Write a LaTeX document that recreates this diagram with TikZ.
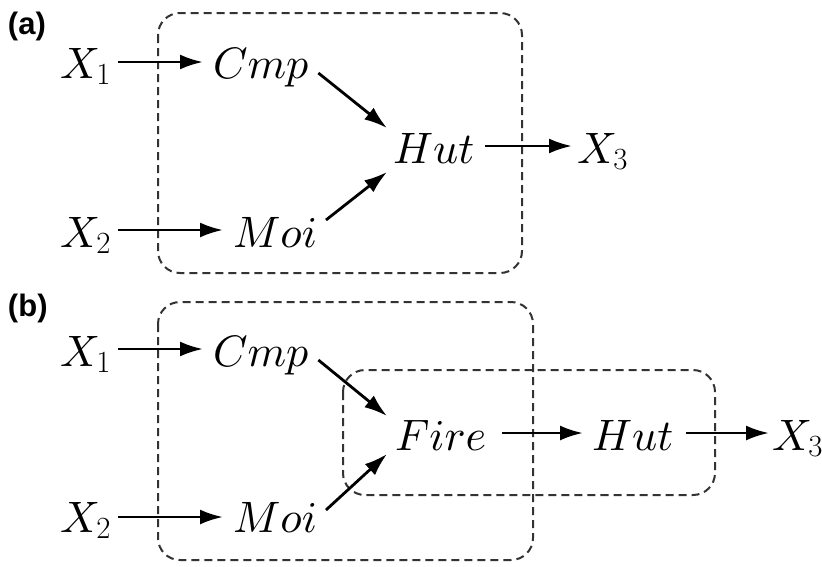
\RequirePackage{fix-cm}
\documentclass[tikz,border=0pt]{standalone}
\usepackage{fontspec}
\DeclareFontShape{OML}{cmm}{m}{it}{<->cmmi10}{\skewchar\font'177}
\newfontfamily\labfont{Liberation Sans}
\usetikzlibrary{arrows.meta}
\begin{document}
\begin{tikzpicture}[x=1pt,y=-1pt,
  var/.style={inner sep=0pt,outer sep=0pt,font=\fontsize{44}{53}\selectfont},
  lab/.style={inner sep=0pt,outer sep=0pt,font=\labfont\bfseries\fontsize{31}{37}\selectfont},
  arr/.style={line width=2.8pt,-{Latex[length=23pt,width=15pt]}},
  grp/.style={draw=black!80,line width=2pt,dash pattern=on 8pt off 5pt,rounded corners=22pt}]
\useasboundingbox (0,0) rectangle (822,566);
% groups
\draw[grp] (158,13) rectangle (522,273);
\draw[grp] (158,302) rectangle (533,560);
\draw[grp] (343,370) rectangle (715,495);
% labels
\node[lab,anchor=base west] (la) at (8,34) {(a)};
\node[lab,anchor=base west] (lb) at (8,316) {(b)};
% (a)
\node[var,anchor=base west] (X1a) at (60,78) {$X_1$};
\node[var,anchor=base west] (Cmpa) at (213,78) {$Cmp$};
\node[var,anchor=base west] (X2a) at (60,247) {$X_2$};
\node[var,anchor=base west] (Moia) at (233,247) {$Moi$};
\node[var,anchor=base west] (Huta) at (393,163) {$Hut$};
\node[var,anchor=base west] (X3a) at (577,163) {$X_3$};
\draw[arr] ([xshift=7pt,yshift=16pt]X1a.base east) -- ([xshift=-10pt,yshift=16pt]Cmpa.base west);
\draw[arr] ([xshift=7pt,yshift=17pt]X2a.base east) -- ([xshift=-10pt,yshift=17pt]Moia.base west);
\draw[arr] ([xshift=10pt,yshift=5pt]Cmpa.base east) -- ([xshift=-6pt,yshift=35pt]Huta.base west);
\draw[arr] ([xshift=9pt,yshift=27pt]Moia.base east) -- ([xshift=-6pt,yshift=-9pt]Huta.base west);
\draw[arr] ([xshift=11pt,yshift=17pt]Huta.base east) -- ([xshift=-5pt,yshift=17pt]X3a.base west);
% (b)
\node[var,anchor=base west] (X1b) at (60,366) {$X_1$};
\node[var,anchor=base west] (Cmpb) at (213,366) {$Cmp$};
\node[var,anchor=base west] (X2b) at (60,532) {$X_2$};
\node[var,anchor=base west] (Moib) at (233,532) {$Moi$};
\node[var,anchor=base west] (Fire) at (395,450) {$Fire$};
\node[var,anchor=base west] (Hutb) at (592,450) {$Hut$};
\node[var,anchor=base west] (X3b) at (772,450) {$X_3$};
\draw[arr] ([xshift=7pt,yshift=17pt]X1b.base east) -- ([xshift=-10pt,yshift=17pt]Cmpb.base west);
\draw[arr] ([xshift=7pt,yshift=15pt]X2b.base east) -- ([xshift=-10pt,yshift=15pt]Moib.base west);
\draw[arr] ([xshift=10pt,yshift=6pt]Cmpb.base east) -- ([xshift=-8pt,yshift=34pt]Fire.base west);
\draw[arr] ([xshift=9pt,yshift=22pt]Moib.base east) -- ([xshift=-8pt,yshift=-4pt]Fire.base west);
\draw[arr] ([xshift=16pt,yshift=17pt]Fire.base east) -- ([xshift=-9pt,yshift=17pt]Hutb.base west);
\draw[arr] ([xshift=13pt,yshift=17pt]Hutb.base east) -- ([xshift=-3pt,yshift=17pt]X3b.base west);
\end{tikzpicture}
\end{document}
